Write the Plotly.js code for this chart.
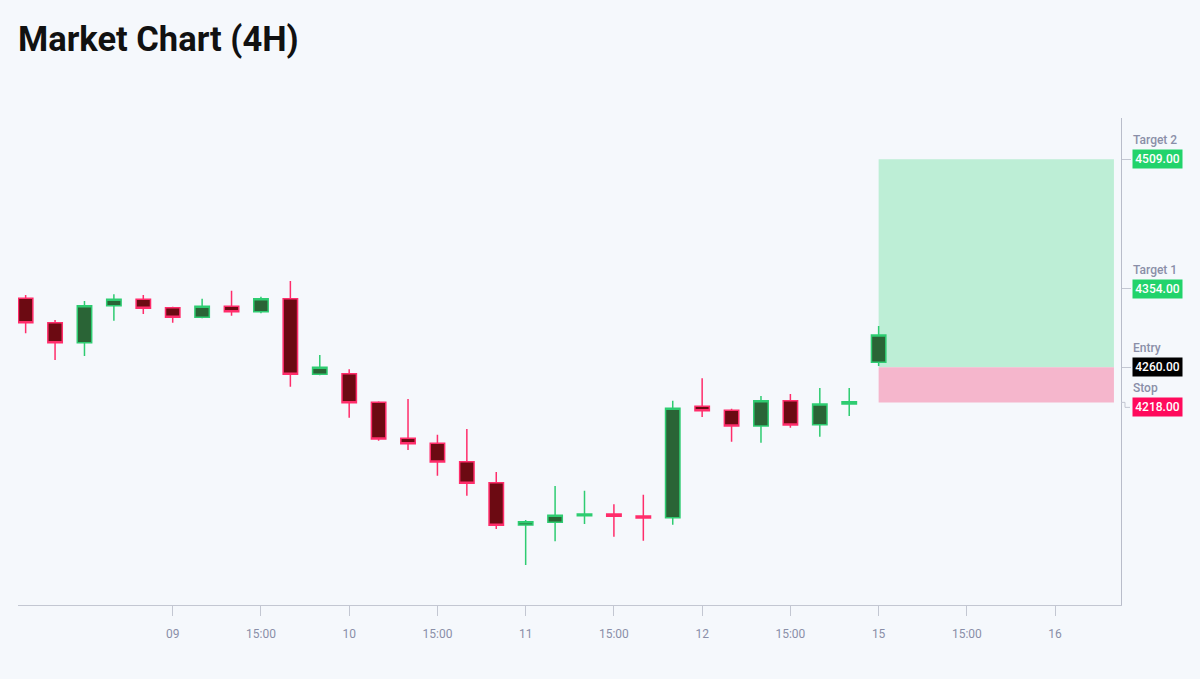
<!DOCTYPE html>
<html>
<head>
<meta charset="utf-8">
<script src="https://cdn.plot.ly/plotly-3.0.1.min.js"></script>
<style>
  html, body { margin: 0; padding: 0; background: #f5f8fc; }
  #chart { width: 1200px; height: 679px; }
</style>
</head>
<body>
<div id="chart"></div>
<script>
// ---- data (4H bars, weekend removed) ----
const barTimes = [
  '08 07:00','08 11:00','08 15:00','08 19:00','08 23:00',
  '09 03:00','09 07:00','09 11:00','09 15:00','09 19:00','09 23:00',
  '10 03:00','10 07:00','10 11:00','10 15:00','10 19:00','10 23:00',
  '11 03:00','11 07:00','11 11:00','11 15:00','11 19:00','11 23:00',
  '12 03:00','12 07:00','12 11:00','12 15:00','12 19:00','12 23:00',
  '15 03:00'
];
const open  = [4342.6,4313.4,4289.5,4333.7,4341.4,4331.4,4319.9,4333.0,4326.6,4342.1,
               4251.6,4252.3,4218.1,4175.0,4169.0,4147.0,4121.8,4071.2,4074.4,4082.3,
               4084.4,4082.0,4079.9,4213.3,4208.5,4189.7,4220.0,4191.3,4216.1,4266.0];
const high  = [4346.6,4316.6,4339.4,4347.4,4346.6,4332.5,4342.1,4351.7,4344.5,4363.3,
               4274.7,4257.6,4219.3,4222.0,4179.3,4186.1,4134.7,4077.2,4117.9,4112.3,
               4096.0,4107.5,4220.0,4246.8,4210.4,4225.6,4228.0,4235.2,4235.2,4309.4];
const low   = [4300.7,4268.7,4273.5,4315.8,4323.8,4313.4,4318.7,4321.8,4324.6,4236.8,
               4250.4,4199.7,4172.1,4161.0,4130.2,4106.3,4066.4,4023.3,4051.7,4072.4,
               4057.2,4052.4,4071.6,4200.5,4170.9,4169.7,4187.7,4176.9,4201.7,4261.6];
const close = [4313.4,4289.5,4333.7,4341.4,4330.6,4319.9,4333.0,4326.6,4342.1,4251.6,
               4260.0,4217.6,4174.2,4168.5,4146.6,4121.1,4070.8,4075.2,4082.8,4084.4,
               4081.6,4079.6,4210.9,4208.0,4189.7,4220.0,4190.9,4216.1,4218.8,4298.7];

// time-axis labels (bar index -> label); indices past the last bar are future bars
const tickBars   = [5, 8, 11, 14, 17, 20, 23, 26, 29, 32, 35];
const tickLabels = ['09','15:00','10','15:00','11','15:00','12','15:00','15','15:00','16'];

// trade levels
const levelNames  = ['Target 2', 'Target 1', 'Entry', 'Stop'];
const levelPrices = [4509, 4354, 4260, 4218];
const entryPrice  = 4260;
const stopPrice   = 4218;
const targetPrice = 4509;
const projectionStartBar = 29;
const projectionEndBar   = 37;

// ---- styles ----
const levelBg     = ['#22d36b', '#22d36b', '#000000', '#ff0a5c'];
const levelShift  = [0, 0, 0, -5];   // label collision offset (px)
const axisGray = '#c3c7d2';
const textGray = '#8a8fa8';

const xIdx = barTimes.map((t, i) => i);

const trace = {
  type: 'candlestick',
  x: xIdx, open: open, high: high, low: low, close: close,
  text: barTimes, hoverinfo: 'text',
  increasing: { line: { color: '#2ecc71', width: 1.5 }, fillcolor: '#2a6436' },
  decreasing: { line: { color: '#ff2d6b', width: 1.5 }, fillcolor: '#6c0a12' },
  whiskerwidth: 0
};

const annotations = [];
levelNames.forEach((name, i) => {
  annotations.push({
    xref: 'paper', x: 1, xanchor: 'left', xshift: 11,
    yref: 'y', y: levelPrices[i], yanchor: 'middle', yshift: levelShift[i],
    text: levelPrices[i].toFixed(2), showarrow: false,
    bgcolor: levelBg[i], borderpad: 2, width: 45, height: 14, align: 'center',
    font: { family: 'Roboto', size: 12, color: '#ffffff', weight: 500 }
  });
  annotations.push({
    xref: 'paper', x: 1, xanchor: 'left', xshift: 10,
    yref: 'y', y: levelPrices[i], yanchor: 'middle', yshift: levelShift[i] + 19,
    text: name, showarrow: false,
    font: { family: 'Roboto', size: 12, color: textGray, weight: 500 }
  });
});

const shapes = [
  { type: 'rect', xref: 'x', yref: 'y', layer: 'below',
    x0: projectionStartBar, x1: projectionEndBar, y0: entryPrice, y1: targetPrice,
    fillcolor: '#bdeed6', line: { width: 0 } },
  { type: 'rect', xref: 'x', yref: 'y', layer: 'below',
    x0: projectionStartBar, x1: projectionEndBar, y0: stopPrice, y1: entryPrice,
    fillcolor: '#f5b6cc', line: { width: 0 } },
  { type: 'path', xref: 'paper', xsizemode: 'pixel', xanchor: 1,
    yref: 'y', ysizemode: 'pixel', yanchor: stopPrice,
    path: 'M0,0 H4 V' + levelShift[3] + ' H9',
    line: { color: axisGray, width: 1 } }
];

const layout = {
  width: 1200, height: 679,
  paper_bgcolor: '#f5f8fc', plot_bgcolor: '#f5f8fc',
  margin: { l: 18, r: 79, t: 118, b: 74 },
  showlegend: false,
  title: {
    text: 'Market Chart (4H)',
    xref: 'container', x: 18 / 1200, xanchor: 'left',
    yref: 'container', y: 1 - 39 / 679, yanchor: 'middle',
    font: { family: 'Roboto', size: 34.5, color: '#111111', weight: 700 }
  },
  xaxis: {
    type: 'linear', range: [-0.26, 37.24],
    rangeslider: { visible: false },
    showgrid: false, zeroline: false,
    showline: true, linecolor: axisGray, linewidth: 1,
    ticks: 'outside', ticklen: 10, tickwidth: 1, tickcolor: axisGray,
    tickmode: 'array', tickvals: tickBars, ticktext: tickLabels,
    ticklabelstandoff: 8,
    tickfont: { family: 'Roboto', size: 12, color: textGray },
    fixedrange: true
  },
  yaxis: {
    side: 'right', range: [3975.4, 4558.5],
    showgrid: false, zeroline: false,
    showline: true, linecolor: '#b9bdca', linewidth: 1,
    ticks: 'outside', ticklen: 9, tickwidth: 1, tickcolor: axisGray,
    tickmode: 'array', tickvals: levelPrices.slice(0, 3),
    showticklabels: false,
    fixedrange: true
  },
  annotations: annotations,
  shapes: shapes
};

Plotly.newPlot('chart', [trace], layout, { displayModeBar: false, staticPlot: true });
</script>
</body>
</html>
